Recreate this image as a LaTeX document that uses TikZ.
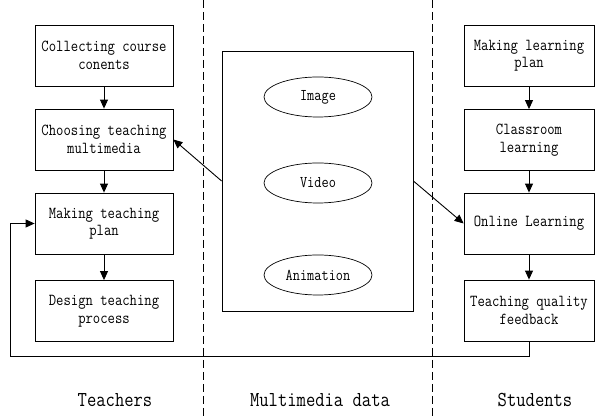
\documentclass[tikz,border=0pt]{standalone}
\usepackage{fontspec}
\setmainfont{Latin Modern Mono}[FakeStretch=0.85]
\usetikzlibrary{arrows.meta,shapes.geometric}
\begin{document}
\begin{tikzpicture}[x=1pt,y=-1pt,
  box/.style={draw, line width=0.8pt, minimum width=138pt, minimum height=61pt, align=center, inner sep=0pt, font=\fontsize{16.8}{17.5}\selectfont},
  rbox/.style={box, minimum width=130pt},
  ell/.style={draw, ellipse, line width=0.7pt, minimum width=108pt, minimum height=40pt, inner sep=0pt, font=\fontsize{16.4}{17}\selectfont},
  arr/.style={-{Triangle[length=9pt,width=8pt]}, line width=0.9pt},
  lane/.style={line width=0.8pt, dash pattern=on 8pt off 4pt},
  lab/.style={font=\fontsize{21.3}{22}\selectfont}]
\useasboundingbox (0,0) rectangle (595,419);
% lanes
\draw[lane] (203,0) -- (203,419);
\draw[lane] (432,0) -- (432,419);
% teachers
\node[box] (t1) at (104,55.5) {Collecting course\\conents};
\node[box] (t2) at (104,139.5) {Choosing teaching\\multimedia};
\node[box] (t3) at (104,223.5) {Making teaching\\plan};
\node[box] (t4) at (104,311) {Design teaching\\process};
% multimedia
\node[draw, line width=0.8pt, minimum width=191pt, minimum height=260pt, inner sep=0pt] (mm) at (317.5,181) {};
\node[ell] (img) at (318,97) {Image};
\node[ell] (vid) at (318,183) {Video};
\node[ell] (ani) at (318,275) {Animation};
% students
\node[rbox] (s1) at (529,55.5) {Making learning\\plan};
\node[rbox] (s2) at (529,140) {Classroom\\learning};
\node[rbox] (s3) at (529,223.5) {Online Learning};
\node[rbox] (s4) at (529,310.5) {Teaching quality\\feedback};
% arrows
\draw[arr] (t1) -- (t2);
\draw[arr] (t2) -- (t3);
\draw[arr] (t3) -- (t4);
\draw[arr] (s1) -- (s2);
\draw[arr] (s2) -- (s3);
\draw[arr] (s3) -- (s4);
\draw[arr] (mm.west) -- (t2.east);
\draw[arr] (mm.east) -- (s3.west);
\coordinate (fbl) at (10,356);
\draw[arr] (s4.south) |- (fbl) |- (t3.west);
% labels
\node[lab] (lt) at (115,400) {Teachers};
\node[lab] (lm) at (320,400) {Multimedia data};
\node[lab] (ls) at (535,400) {Students};
\end{tikzpicture}
\end{document}
